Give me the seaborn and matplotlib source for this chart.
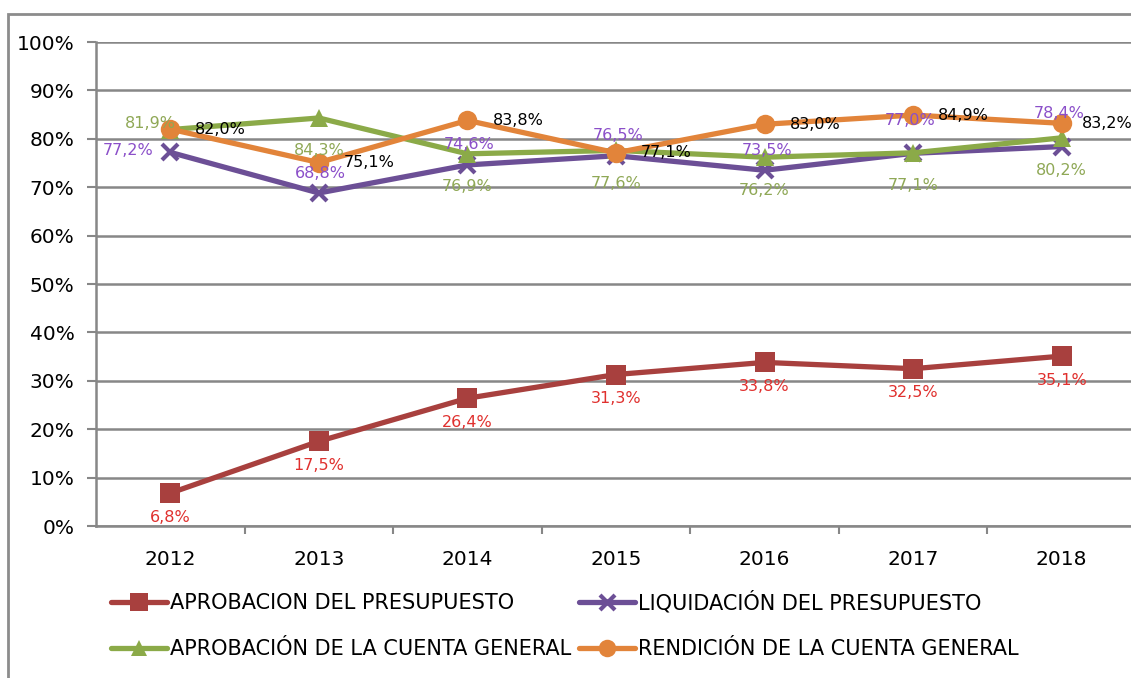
import numpy as np
import pandas as pd
import matplotlib
matplotlib.use('Agg')
import matplotlib.pyplot as plt
import seaborn as sns
from matplotlib.patches import Rectangle
from matplotlib.ticker import FuncFormatter

# Data
years = ['2012', '2013', '2014', '2015', '2016', '2017', '2018']
aprobacion_presupuesto = [6.8, 17.5, 26.4, 31.3, 33.8, 32.5, 35.1]
liquidacion_presupuesto = [77.2, 68.8, 74.6, 76.5, 73.5, 77.0, 78.4]
aprobacion_cuenta = [81.9, 84.3, 76.9, 77.6, 76.2, 77.1, 80.2]
rendicion_cuenta = [82.0, 75.1, 83.8, 77.1, 83.0, 84.9, 83.2]

series_names = ['APROBACION DEL PRESUPUESTO', 'LIQUIDACIÓN DEL PRESUPUESTO',
                'APROBACIÓN DE LA CUENTA GENERAL', 'RENDICIÓN DE LA CUENTA GENERAL']


def fmt(v):
    return '{:.1f}%'.format(v).replace('.', ',')


def main():
    sns.set_theme(style='white')
    plt.rcParams['font.family'] = ['DejaVu Sans']
    plt.rcParams['text.color'] = 'black'

    fig = plt.figure(figsize=(11.31, 6.78), dpi=100)
    ax = fig.add_axes([96 / 1131, 1 - 526 / 678, 1040 / 1131, 484 / 678])

    pos = np.arange(len(years))
    gray = '#878787'

    # colour, marker, marker size per series
    styles = [
        ('#A8403E', 's', 14),
        ('#6C4F96', 'x', 12),
        ('#8BAA48', '^', 13),
        ('#E2843A', 'o', 14),
    ]
    values = [aprobacion_presupuesto, liquidacion_presupuesto, aprobacion_cuenta, rendicion_cuenta]

    for name, vals, st in zip(series_names, values, styles):
        color, marker, ms = st
        sns.lineplot(x=pos, y=vals, ax=ax, color=color, linewidth=3.8, marker=marker,
                     markersize=ms, markeredgewidth=3 if marker == 'x' else 0,
                     markeredgecolor=color, label=name, legend=False)

    px = 72 / 100.0  # pixels -> points
    lab = 11.5

    # data labels
    for i, v in enumerate(aprobacion_presupuesto):
        ax.annotate(fmt(v), (i, v), xytext=(0, -24 * px), textcoords='offset points',
                    ha='center', va='center', fontsize=lab, color='#E0302E')
    for i, v in enumerate(liquidacion_presupuesto):
        if i == 0:
            off = (-42, 2)
        elif i in (5, 6):
            off = (-3, 33)
        else:
            off = (2, 20)
        ax.annotate(fmt(v), (i, v), xytext=(off[0] * px, off[1] * px), textcoords='offset points',
                    ha='center', va='center', fontsize=lab, color='#8B4FC9')
    for i, v in enumerate(aprobacion_cuenta):
        off = (-20, 6) if i == 0 else (0, -33)
        ax.annotate(fmt(v), (i, v), xytext=(off[0] * px, off[1] * px), textcoords='offset points',
                    ha='center', va='center', fontsize=lab, color='#8FA856')
    for i, v in enumerate(rendicion_cuenta):
        dx = 20 if i == len(rendicion_cuenta) - 1 else 25
        ax.annotate(fmt(v), (i, v), xytext=(dx * px, 0), textcoords='offset points',
                    ha='left', va='center', fontsize=lab, color='#000000')

    # axes
    ax.set_xlim(-0.5, len(years) - 0.5)
    ax.set_ylim(0, 100)
    ax.set_yticks(np.arange(0, 101, 10))
    ax.yaxis.set_major_formatter(FuncFormatter(lambda v, p: '{:.0f}%'.format(v)))
    ax.set_xticks(pos)
    ax.set_xticklabels(years)
    ax.set_xticks(np.arange(0.5, len(years) - 1, 1), minor=True)
    ax.tick_params(axis='x', which='major', length=0, pad=17, labelsize=14.5, labelcolor='black')
    ax.tick_params(axis='x', which='minor', length=6, width=1.5, color=gray, direction='out', bottom=True)
    ax.tick_params(axis='y', length=6.5, width=1.5, color=gray, pad=9, labelsize=14.5,
                   labelcolor='black', left=True)
    ax.grid(axis='y', color=gray, linewidth=1.8)
    ax.set_axisbelow(True)
    for s in ['top', 'right']:
        ax.spines[s].set_visible(False)
    for s in ['left', 'bottom']:
        ax.spines[s].set_color(gray)
        ax.spines[s].set_linewidth(1.8)
    ax.set_xlabel('')
    ax.set_ylabel('')

    # legend below the plot
    handles, labels = ax.get_legend_handles_labels()
    order = [0, 2, 1, 3]
    fig.legend([handles[i] for i in order], [labels[i] for i in order], ncol=2,
               loc='lower left', bbox_to_anchor=(92 / 1131, 0.0), frameon=False,
               fontsize=15, handlelength=2.7, handletextpad=0.15, columnspacing=0.35,
               labelspacing=1.25, markerscale=0.9, labelcolor='black')

    # outer chart frame
    fig.patches.append(Rectangle((8 / 1131, -0.1), 1.2, 1.1 - 14 / 678, transform=fig.transFigure,
                                 fill=False, edgecolor='#8c8c8c', linewidth=2, clip_on=False))

    plt.savefig('out.png', dpi=100)


if __name__ == "__main__":
    main()
